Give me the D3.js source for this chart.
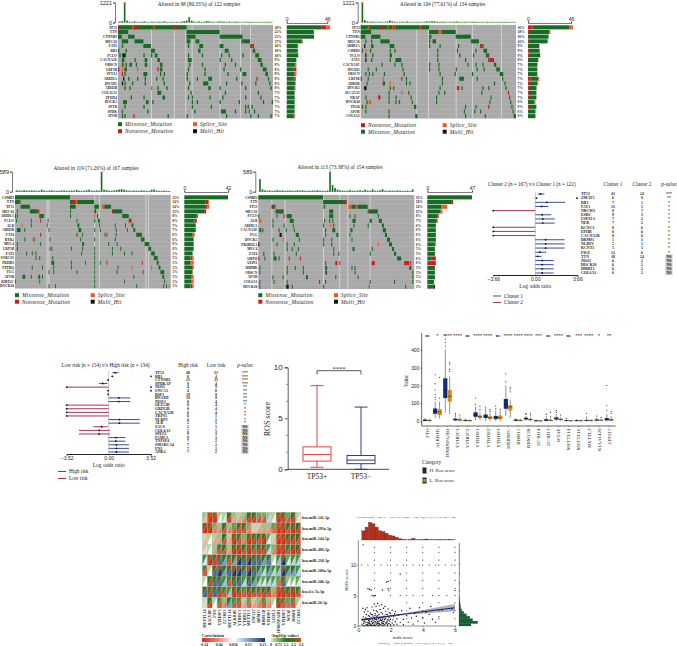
<!DOCTYPE html>
<html>
<head>
<meta charset="utf-8">
<script src="https://d3js.org/d3.v7.min.js"></script>
<style>
  body { margin:0; background:#fff; }
  svg { display:block; font-family:"Liberation Serif", serif; }
</style>
</head>
<body>
<script>
// ---- oncoplot data: each gene row is a list of [startSample, nSamples, type]
var genesA = ["TP53","TTN","CTNNB1","MUC16","FAT1","RB1","PCLO","CACNA1E","OBSCN","LRP1B","SPTA1","ARID1A","DNAH5","ADH1B","COL11A1","ZFHX4","DOCK5","SPTB","SPHK","APOB"];
var pctA = ["38%","25%","25%","17%","10%","10%","10%","9%","9%","9%","9%","9%","8%","8%","7%","7%","7%","7%","7%","7%"];
var barsA = [[39,6,4,0],[30,1,0,0],[31,0,0,0],[17,1,0,0],[12,1,0,0],[12,1,0,0],[12,0,0,1],[11,0,0,0],[10,0,1,0],[8,3,0,0],[9,1,1,0],[8,1,0,1],[10,0,0,0],[9,0,1,0],[9,0,0,0],[9,0,0,0],[9,0,0,0],[9,0,0,0],[9,0,0,0],[8,1,0,0]];
var cellsA = [
 [[0,54],[0,1,"N"],[7,1,"N"],[11,1,"S"],[13,2,"N"],[18,1,"N"],[28,1,"S"],[44,2,"N"],[48,1,"N"]],
 [[0,8],[54,26],[70,1,"N"]],
 [[0,3],[8,5],[54,7],[80,18]],
 [[3,5],[13,7],[54,3],[61,3],[97,1,"N"],[98,6]],
 [[3,1],[20,6],[55,1],[64,3],[80,3],[104,2,"N"],[106,1]],
 [[0,1],[6,1],[26,3],[63,2],[84,3],[106,2]],
 [[1,1],[3,1],[4,2,"H"],[20,1],[26,1],[29,2],[55,1],[66,1],[81,1],[87,1],[98,1],[108,3]],
 [[3,2],[13,1],[21,2],[31,2],[55,3],[80,1],[89,1],[110,3]],
 [[3,1],[4,1,"S"],[6,1],[9,2],[14,1],[21,2],[33,2],[56,1],[66,1],[84,1],[92,1],[112,2]],
 [[0,1,"N"],[3,1,"S"],[5,2],[15,1,"S"],[31,1,"N"],[33,2],[55,1],[68,1],[83,1],[96,1],[114,3]],
 [[3,1,"N"],[5,1],[20,3],[33,1],[36,1],[54,1],[68,1],[86,1],[98,3],[116,2]],
 [[4,1,"H"],[8,1],[15,1],[21,1],[30,1],[35,1],[54,1],[62,1],[71,3],[93,1],[109,1,"N"],[118,1]],
 [[3,1,"H"],[5,1],[11,1],[21,1],[36,1],[56,1],[67,4],[85,1],[97,1],[108,1],[119,1]],
 [[5,1],[9,1],[26,1,"S"],[31,1],[38,1],[55,1],[71,2],[80,1],[100,1],[120,1]],
 [[31,3],[57,1],[84,1],[110,1]],
 [[10,1],[20,1],[35,2],[55,1],[58,1],[72,1],[82,1],[100,1],[112,1]],
 [[4,3],[22,2],[27,1],[58,1],[62,1],[80,1],[95,1],[114,1],[121,1]],
 [[5,1],[20,1],[58,1],[73,1],[100,1],[102,1],[105,1]],
 [[3,1],[23,1],[60,1],[81,4],[92,1],[100,1],[103,1],[107,1]],
 [[3,1],[5,1],[12,1,"N"],[39,1],[54,1],[85,1],[104,1],[110,1],[120,1]]
];
var topA = [60,80,1221,120,40,30,70,30,25,40,60,30,20,45,35,25,50,30,70,30,25,30,20,35,25,60,90,120,330,110,50,35,60,30,45,90,70,40,30,25,70,60,45,30,50,25,35,55,30,25,20,45,35,25,30,20,25,30,20,40,30,25];
var gapsA = [26,44,53,58,80,96,104];

var genesB = ["TP53","TTN","CTNNB1","MUC16","ARID1A","CSMD3","PCLO","FAT1","CACNA1E","DNAH5","OBSCN","LRP1B","ADH1B","DOCK5","SLC25A5","NRAP","DOCK10","PIGR","APOB","COL6A1"];
var pctB = ["36%","18%","16%","16%","9%","9%","9%","8%","7%","7%","7%","7%","7%","7%","7%","7%","6%","6%","6%","6%"];
var barsB = [[39,5,4,0],[22,1,1,0],[22,0,0,0],[20,1,0,0],[11,0,0,1],[11,1,1,0],[11,1,0,1],[11,0,0,0],[10,0,0,0],[10,0,0,0],[10,0,0,0],[8,3,1,0],[9,1,1,0],[7,1,0,1],[8,1,0,0],[8,1,0,0],[7,0,1,0],[8,1,0,0],[8,0,0,0],[8,0,0,0]];
var cellsB = [
 [[0,59],[6,2,"S"],[7,1,"N"],[17,2,"N"],[23,1,"S"],[27,1,"S"],[29,1,"S"],[51,1,"S"]],
 [[0,9],[59,23],[67,3,"S"],[71,1,"N"]],
 [[0,4],[9,8],[59,2],[82,13]],
 [[4,1],[9,1],[17,8],[59,1],[62,3],[95,1,"N"],[96,6]],
 [[3,1,"H"],[9,2],[25,4],[59,1],[68,1],[84,1],[103,2,"N"],[105,1]],
 [[1,1],[4,1,"S"],[8,1],[25,1],[29,1],[66,1],[83,1],[99,1],[106,3]],
 [[4,1,"H"],[10,1],[25,2],[66,1],[85,1],[97,1],[108,1],[109,2,"N"]],
 [[4,1,"H"],[9,1],[25,1],[30,5],[66,1],[90,1],[110,1],[111,3,"N"],[114,1]],
 [[18,1],[29,1],[35,1],[59,1],[67,1],[92,1],[99,1],[105,1],[115,2]],
 [[6,1],[13,1],[36,1],[59,1],[67,1],[82,1],[100,1],[106,1],[117,3]],
 [[4,1],[7,1],[10,1],[20,1],[37,1],[68,1],[81,1],[96,1],[120,3]],
 [[0,1,"N"],[6,1],[19,1,"S"],[35,1,"N"],[39,1],[70,1],[85,4],[100,1],[122,1]],
 [[5,1],[19,2],[25,1,"S"],[39,1],[42,1],[70,1],[115,1],[124,1]],
 [[3,2,"H"],[25,1],[28,1],[68,1],[83,2,"N"],[87,1],[105,1],[110,1],[125,1]],
 [[24,1],[35,1,"S"],[41,1],[67,1],[72,1],[104,1],[127,1,"N"]],
 [[4,1],[15,2,"N"],[24,1],[30,1],[43,1],[65,1],[112,1],[128,1]],
 [[5,1],[7,2,"S"],[24,1],[30,1],[33,1],[44,1],[65,1],[111,1],[129,1]],
 [[1,1],[4,1],[46,2],[90,1],[99,1],[110,1,"N"],[130,1]],
 [[4,1],[24,1],[89,1],[98,1],[103,1],[131,1]],
 [[24,1],[47,2],[90,1],[107,1],[132,2]]
];
var topB = [1221,140,60,40,50,30,25,40,30,20,60,120,70,40,30,25,45,30,60,30,25,20,35,30,25,40,70,60,80,70,45,30,50,40,25,35,30,45,60,30,25,40,30,20,35,45,30,25,30,20,40,25,30,20,25,30,20,35,25,30,20,30];
var gapsB = [48,58,82,96,121];

var genesC = ["CSMD3","TTN","TP53","MUC16","ARID1A","PCLO","ALB","ADH1B","FAT4","RYR2","MUC4","LRP1B","FAT3","SORCS3","PKHD1","PTPRQ","FLG","APOB","KMT2C","DOCK10"];
var pctC = ["25%","14%","14%","13%","8%","8%","7%","7%","6%","6%","6%","6%","5%","5%","5%","5%","5%","5%","5%","5%"];
var barsC = [[42,0,0,0],[20,3,1,0],[20,2,2,0],[19,2,0,0],[12,1,0,0],[10,2,0,0],[11,0,0,0],[11,0,0,0],[8,1,1,0],[9,0,0,0],[9,0,0,0],[9,0,0,0],[8,0,0,0],[6,2,1,0],[6,1,2,0],[8,1,0,0],[8,0,0,0],[7,1,1,0],[7,1,1,0],[6,2,1,0]];
var cellsC = [
 [[0,59]],
 [[0,6],[0,1,"N"],[2,1,"N"],[5,1,"S"],[59,26],[61,3,"N"],[65,2,"S"]],
 [[6,10],[59,6],[85,5],[93,2,"S"],[95,1,"N"],[96,7]],
 [[2,1],[16,8],[24,2,"N"],[59,1],[85,2],[104,1,"N"],[105,10]],
 [[0,1],[2,1],[26,5],[59,1],[85,1,"S"],[88,1],[115,7]],
 [[1,1],[17,1],[27,1,"N"],[35,1],[66,1],[85,1],[89,2],[122,3,"N"]],
 [[7,1,"S"],[17,1],[34,1],[67,2],[90,1],[107,1],[118,1],[125,2]],
 [[2,4],[10,1],[36,1],[68,3],[85,1],[91,1],[108,1],[120,1],[127,2]],
 [[27,1,"N"],[66,1],[72,1],[96,1,"N"],[98,1],[108,1],[130,6]],
 [[10,1],[19,1,"S"],[20,1],[37,1],[70,1],[85,1],[107,1],[135,4]],
 [[2,1],[27,1],[72,2],[100,1],[109,1],[139,5]],
 [[2,1],[37,1],[39,1],[60,1],[72,1],[85,1],[104,1],[113,1],[143,3]],
 [[12,1],[18,1],[22,1],[71,1],[85,1],[104,1],[117,1],[125,1],[146,4]],
 [[22,1],[26,1],[40,1],[85,1],[149,4]],
 [[39,3],[60,1],[75,1],[85,1],[91,1],[98,1,"N"],[136,1,"N"],[152,2]],
 [[18,1],[29,1],[41,1],[60,1],[85,1],[110,1],[125,1,"S"],[146,1,"S"],[154,2]],
 [[36,1],[41,1],[66,1],[85,1],[109,1],[137,1,"N"],[156,4]],
 [[8,3],[17,1],[25,2],[29,1],[85,1],[127,1],[158,2]],
 [[0,1,"N"],[26,1],[85,1],[117,1],[160,1]],
 [[36,1],[43,1],[85,1],[130,1],[159,1,"N"],[162,1],[165,1,"S"]]
];
var topC = [40,35,30,45,35,30,40,35,25,30,60,35,25,30,45,30,25,30,40,35,30,25,35,30,50,30,25,30,45,60,30,25,40,30,589,60,45,30,25,35,50,65,80,60,40,30,25,35,30,25,40,30,25,20,60,65,30,25,20,30,25,20];
var gapsC = [34,36,85,90,140,143];

var genesD = ["CSMD3","TTN","TP53","MUC16","PCLO","ALB","ARID1A","CACNA1E","FLG","DOCK5","PKHD1L1","MUC4","FAT4","AMPH","AXIN1","HMMR","OBSCN","APOB","COL6A1","DOCK10"];
var pctD = ["31%","18%","14%","11%","8%","7%","6%","6%","6%","6%","6%","5%","5%","6%","6%","5%","5%","5%","5%","5%"];
var barsD = [[47,0,0,0],[25,2,0,0],[15,1,5,0],[14,1,1,0],[11,1,0,0],[10,0,1,0],[9,0,0,0],[9,0,0,0],[9,0,0,0],[9,0,0,0],[8,0,1,0],[8,0,0,0],[8,0,0,0],[4,5,0,0],[0,9,0,0],[8,0,0,0],[8,0,0,0],[8,0,0,0],[7,0,0,0],[7,0,0,1]];
var cellsD = [
 [[0,64]],
 [[64,23],[84,3,"N"]],
 [[13,3],[16,1,"N"],[64,1,"S"],[65,1],[89,3,"S"],[92,4],[96,1,"N"],[97,1,"S"],[98,10]],
 [[17,8],[22,1,"N"],[70,4],[108,1,"N"],[109,9]],
 [[0,1],[18,1],[25,1,"N"],[28,5],[70,4],[90,1],[95,1],[118,1]],
 [[1,2,"S"],[14,1],[31,4],[65,1],[70,1],[73,1],[93,3],[110,2],[119,3]],
 [[14,1],[25,1],[34,1],[64,1],[71,1,"S"],[74,1],[94,1],[108,1],[122,2]],
 [[1,2],[4,1],[20,1],[27,1],[35,1],[66,1],[73,3],[91,2],[123,3]],
 [[21,2,"H"],[37,3],[66,1],[77,2],[90,1],[125,2]],
 [[14,1],[24,1,"S"],[40,1],[64,1],[72,1],[92,1],[127,3]],
 [[0,1,"H"],[18,1],[28,1],[35,1],[64,1],[72,1],[118,1,"S"],[129,3]],
 [[28,1],[33,1],[39,1],[74,1],[93,2],[112,1],[132,2]],
 [[5,1],[15,1],[37,1],[74,1],[79,1],[110,1],[134,2]],
 [[0,1,"N"],[6,1],[15,3],[20,1],[30,1,"N"],[41,1,"N"],[137,4]],
 [[66,1,"N"],[76,2,"N"],[80,1,"N"],[112,3,"N"],[144,5,"N"],[150,1,"N"]],
 [[1,1],[28,1],[36,1],[44,1],[66,2],[92,1],[95,1],[149,2]],
 [[1,1],[28,1],[44,1],[66,2],[95,1],[152,1]],
 [[14,1],[24,1],[47,2],[76,1],[98,1],[152,1]],
 [[1,1],[15,1],[28,1],[60,1],[66,1],[110,1],[134,1],[152,1]],
 [[1,1],[27,1],[28,2,"H"],[33,1],[64,1],[109,1,"N"],[145,1]]
];
var topD = [370,70,40,30,35,25,30,45,30,40,25,30,35,30,25,45,30,40,25,30,25,35,30,45,30,25,20,35,589,200,110,60,40,30,25,30,45,30,25,35,40,30,60,35,25,70,30,25,40,75,30,25,35,30,25,40,30,20,25,30,20,70];
var gapsD = [13,26,64,80,88,110];

// ---- forest plots: [log odds, low, high]
var genesF1 = ["TP53","ZMAT5","RB1","FAT1","NBCW3","ESR1","USP31A","NEB","KCNC1","EPHB","CACNA1B","BRMS1","NLRP3","KCNT1","PIGI","TTN","NOS1","DOCK10","DMBT1","COL6A1"];
var forestF1 = [[.46,.2,.8],[.1,.05,.2],[1,0,2.6],[.55,0,1.15],[-3.66,-3.66,0],[.6,0,1.4],[.65,0,1.7],[.65,0,1.7],[-3.66,-3.66,0],[-3.66,-3.66,0],[-3.66,-3.66,0],[.9,0,2.55],[.9,0,2.55],[.9,0,2.55],[.4,0,.95],[.2,0,.55],[.6,0,1.6],[.6,0,1.6],[.6,0,1.6],[.6,0,1.6]];
var countF1a = [43,6,7,13,0,9,7,7,0,0,0,5,5,5,12,38,6,6,6,6];
var countF1b = [24,0,1,5,7,3,2,2,6,6,6,1,1,1,6,24,2,2,2,2];
var pvalF1 = ["***","**","*","*","*","*","*","*","*","*","*","*","*","*","*","NS","NS","NS","NS","NS"];
var flagF1 = [1];

var genesF2 = ["TP53","RB1","CTNNB1","SPHKAP","NOS1","UNC5A","RSF1","DNAH9","NOX3","OLIG3B","GRIN2B","CACNA1B","TRPS1","NLRP3","ALB","SACS","COL6A3","SPEF2","FAM5A","TNFSF4","SMARCA4","FN1","ANK2"];
var forestF2 = [[.55,.3,.85],[.3,.2,.4],[-.05,-.1,.02],[-.5,-.8,-.1],[-3.52,-3.52,0],[-.05,-.1,.02],[-.05,-.1,.02],[.85,0,1.8],[.85,0,1.8],[-3.52,-3.52,0],[-3.52,-3.52,0],[-3.52,-3.52,0],[-3.52,-3.52,0],[.9,0,2.6],[.9,0,2.6],[-.6,-1.3,-.1],[-.8,-2.5,.1],[-.8,-2.5,.1],[.6,0,1.4],[.6,0,1.4],[.65,0,1.7],[.65,0,1.7],[.65,0,1.7]];
var countF2a = [48,8,23,0,4,4,19,19,0,0,0,0,6,6,2,2,1,9,9,7,7,7,7];
var countF2b = [31,4,11,4,9,8,9,9,4,4,4,4,1,1,5,5,5,3,3,2,2,2,2];
var pvalF2 = ["***","***","***","***","**","**","**","**","**","*","*","*","*","*","*","NS","NS","NS","NS","NS","NS","NS","NS"];
var flagF2 = [1,4,5];

// ---- TP53 box plot: [low, q1, median, q3, high]
var tpNames = ["TP53+","TP53\u2212"];
var tpBoxes = [[.2,.8,1.45,2.2,8.2],[0,.55,.9,1.35,6.1]];
var tpColors = ["#e8424a","#2d3b8e"];
var tpMinor = [1.67,3.33,6.67,8.33];

// ---- m6A box plot
var m6aNames = ["FTO","ALKBH5","HNRNPA2B1","YTHDC1","YTHDC2","YTHDF1","YTHDF2","YTHDF3","HNRNPC","RBM15","RBM15B","ZC3H14","ZC3H13","WTAP","METTL14","METTL16","METTL3","KIAA1429","ZFP217"];
var m6aHigh = [[0,2,5,10,18],[20,42,55,72,110],[50,130,175,240,400],[0,5,10,15,30],[0,2,4,8,15],[5,25,35,50,80],[2,18,27,38,75],[0,12,20,30,60],[30,70,95,125,200],[0,3,6,10,18],[2,10,15,20,30],[0,1,3,5,10],[0,3,6,12,30],[2,10,15,22,40],[0,2,4,6,10],[0,2,4,6,12],[0,3,5,8,15],[0,4,7,10,20],[0,5,12,18,40]];
var m6aLow = [[0,1,4,8,15],[15,35,52,68,110],[40,110,140,175,250],[0,3,8,13,25],[0,1,3,6,12],[5,18,26,33,50],[2,12,20,28,50],[0,12,20,32,60],[20,60,80,90,120],[0,2,5,8,15],[0,5,10,13,25],[0,1,2,4,8],[0,2,5,8,15],[0,6,10,14,25],[0,1,3,5,9],[0,1,3,5,10],[0,2,4,7,12],[0,4,6,9,15],[0,3,8,13,30]];
var m6aHighOut = [[],[120,135,150,175,210,260],[420,440,460,480],[35,45],[],[95,130],[80],[70,85],[220,265],[],[40,45],[],[40],[50,60],[15],[],[22,45],[30],[60,90,200]];
var m6aLowOut = [[],[130,245],[280,290,320,330],[35],[],[65,85],[55,65],[68],[165,180,190],[],[35,45],[],[25,50],[35],[],[],[],[22],[45,55]];
var m6aSig = ["ns","*","****","****","ns","****","****","ns","****","****","****","***","ns","****","ns","***","****","*","**"];

// ---- miRNA heatmap
var mirRows = ["hsa-miR-141-5p","hsa-miR-193a-5p","hsa-miR-144-5p","hsa-miR-486-5p","hsa-miR-210-3p","hsa-miR-106a-5p","hsa-miR-20b-5p","hsa-let-7a-3p","hsa-miR-20-5p"];
var mirCols = ["METTL14","RALYBP","FTO","YTHDF3","ZC3H13","METTL16","ALKBH5","YTHDC1","YTHDC2","METTL3","ZNF217","RBM15","RBM15B","YTHDF1","LOXL1","HNRNPA2B1","YTHDF2","WTAP","RBMX","ZC3H14"];
var mirCorr = [
 [.0,-.14,-.14,.055,.03,-.12,-.02,-.02,-.05,-.12,-.12,-.1,-.1,.1,.04,-.14,-.12,-.1,-.12,.03],
 [-.14,-.14,-.05,-.04,-.1,-.05,-.1,-.1,-.1,-.05,.0,-.02,-.03,-.03,-.08,-.14,-.14,-.1,-.14,-.12],
 [0,.05,-.02,-.03,-.1,-.02,-.14,-.1,-.05,-.14,-.12,-.1,-.14,.08,.0,-.14,-.14,-.12,-.12,-.1],
 [.02,.055,-.03,-.1,-.1,-.03,-.14,-.14,-.1,-.14,-.1,-.12,-.12,.1,-.05,-.14,-.14,-.1,-.14,-.12],
 [.08,-.14,-.12,.2,.15,-.1,.15,.25,.2,.25,.2,.2,.15,.18,.055,.12,.25,.08,.1,.1],
 [-.1,.055,.2,.25,.15,.2,.25,.25,.18,.25,.2,.15,.1,.15,.1,.12,.25,.15,.15,.1],
 [.055,-.12,.2,.2,.12,-.1,.2,.2,.1,.2,.15,.1,.08,.1,.1,-.08,.2,.05,.05,.08],
 [.2,-.12,.2,-.12,-.1,.12,-.14,-.12,-.1,-.12,-.1,-.1,-.12,-.1,-.05,-.14,-.14,-.12,-.14,-.1],
 [.02,-.12,.055,-.1,-.05,.15,-.1,-.1,-.02,-.08,-.02,-.05,-.1,-.04,.055,-.14,-.1,-.08,-.1,.04]
];
var mirLogP = [
 [.5,3.1,2.8,.4,.3,2,.5,.3,.5,1.5,1.8,.9,.8,.5,.3,2.6,2,.9,1.5,.3],
 [2.5,2.6,.8,.5,1.5,.5,1,2,2,.8,.2,.2,.5,.5,1,3,2.6,1.8,2,1.5],
 [.2,.3,.3,.5,1.5,.3,2.4,1.4,.8,2.2,2,1.5,2,.9,.2,3,2.6,2,1.8,1.6],
 [.3,.2,.5,1.4,1.5,.5,2.2,2.4,1.5,2.4,1.4,1.6,1.7,1.2,.7,3,2.5,1.4,2.2,1.8],
 [1.2,2.8,1.8,2.2,1.6,1.3,1.8,2.5,2,2.6,2,2.2,1.6,1.8,.3,1.2,2.6,.9,1.2,1.1],
 [1.3,.3,2.2,2.6,1.8,2,2.6,2.6,1.8,2.8,2.2,1.6,1.2,1.6,1.2,1.2,2.6,1.6,1.6,1.2],
 [.2,1.6,2,2,1.2,1.3,2,2,1.2,2,1.6,1.2,.9,1.2,1.1,1,2.1,.6,.6,.9],
 [2,2.2,2,1.8,1.3,1.2,2.4,1.7,1.2,1.9,1.5,1.4,1.8,1.5,.6,3,2.4,1.7,2.4,1.4],
 [.2,1.5,.3,1.2,.6,1.6,1.2,1.2,.3,1,.3,.6,1.2,.5,.3,2.2,1.3,1,1.2,.4]
];
var corrStops = [-.14,-.04,.056,.15,.25];
var corrColors = ["#e3261c","#f08070","#ffffff","#7f9cc8","#14327e"];
var logpStops = [0,.75,1.5,2.2,3.3];
var logpColors = ["#d3ecbf","#6dbb5e","#1f7a25","#5d6a12","#dd4a10"];

// ---- ROS vs mda score scatter
var scatterPts = [[.3,.1],[.35,.4],[.4,.8],[.45,1.3],[.5,.2],[.5,1.9],[.55,.6],[.6,1.1],[.6,2.4],[.65,.1],[.65,.9],[.7,.4],[.7,1.6],[.75,2.1],[.8,.2],[.8,.7],[.8,1.3],[.85,3.1],[.9,.1],[.9,.5],[.9,1],[.9,1.8],[.95,2.6],[1,.3],[1,.8],[1,1.4],[1,3.6],[1.05,.1],[1.05,2],[1.1,.5],[1.1,1.1],[1.1,3.2],[1.15,.2],[1.15,1.6],[1.2,.7],[1.2,2.3],[1.2,3.7],[1.25,.1],[1.25,1.2],[1.3,.4],[1.3,1.9],[1.3,3.3],[1.35,.9],[1.35,2.7],[1.4,.2],[1.4,1.4],[1.45,.6],[1.45,3.5],[1.5,.1],[1.5,1],[1.5,2],[1.55,.4],[1.55,2.9],[1.6,.8],[1.6,1.6],[1.65,.2],[1.65,3.2],[1.7,1.2],[1.7,2.4],[1.75,.5],[1.8,.1],[1.8,1],[1.8,1.9],[1.85,2.8],[1.9,.4],[1.9,1.4],[1.95,.8],[2,.2],[2,1.1],[2,2.1],[2.05,1.7],[2.1,.5],[2.1,2.6],[2.15,1],[2.2,.2],[2.2,1.5],[2.25,2],[2.3,.7],[2.3,2.4],[2.4,.3],[2.4,1.2],[2.5,1.8],[2.6,.6],[2.7,2.5],[2.8,.2],[2.8,1.1],[3,1.7],[3.1,.6],[3.2,2.9],[3.3,1.3],[3.4,.3],[3.5,2.1],[3.6,1.6],[3.7,.8],[3.8,3],[4,1.4],[4.1,.5],[4.2,2.2],[4.4,1.9],[4.5,3.2],[4.6,1.1],[4.8,.6],[5,1.5],[5.2,2.6],[5.8,2.8],[.32,1.5],[.38,2.3],[.42,.05],[.48,.6],[.52,1.1],[.58,.3],[.62,1.7],[.68,.7],[.72,1.1],[.78,.1],[.82,1.9],[.88,.4],[.92,1.5],[.98,.1],[1.02,1.1],[1.08,.7],[1.12,2.5],[1.18,.4],[1.22,1.7],[1.28,.8],[1.32,.2],[1.38,1.1],[1.42,2.2],[1.48,.4],[1.52,1.3],[1.58,.15],[1.62,1.1],[1.68,.5],[1.72,1.9],[1.78,.7],[1.82,.3],[1.88,1],[1.92,2.2],[.22,.3],[.25,1.1],[.28,2.9],[.34,.7],[.44,2.7],[.54,3],[.56,.1],[.64,.5],[.74,.3],[.84,.8],[.94,.6],[1.04,1.7],[1.14,1],[1.24,.5],[1.34,1.4],[1.44,.9],[1.54,.7],[.6,6.1],[.7,6],[.8,5.9],[.85,5],[.95,4.9],[1.05,5],[1.5,5.9],[1.85,6.1],[1.9,5.8],[1.85,7.3],[1.75,7.2],[2.6,8.5],[.3,13.3],[6,5.8],[5.9,2.2]];
var scatterRows = [[12.9,[1,2,3,4,5,6]],[12.1,[1,2,3,4,5,6]],[10.8,[1,2,3,4,5,6]],[10,[.2,.6,1,1.4,1.8,2,2.4,2.8,3,3.4,3.8,4,4.4,4.8,5,5.4,5.8,6]],[8.7,[1,2,3,4,5,6]],[7.5,[1,2,3,4,5,6]],[6.2,[1,2,3,4,5,6]],[5,[1,2,2.6,3,3.4,4,4.6,5,5.5,6]],[3.8,[3,4,5,6]],[2.5,[3,4,5,6]],[1.2,[3,4,5,6]]];
var regX = [.2,3,6];
var regY = [1,2,3];
var regLo = [.8,1.85,2.4];
var regHi = [1.2,2.15,3.6];
var topHist = [27,38,52,48,38,27,25,20,14,12,8,4,2,1,2,5,1,1,2,3,1,1,1,2,1,1,2,1];
var sideHist = [35,55,40,32,22,14,8,5,4,3,2,2,1,1,2,1,1,2,1,1,1,2,1,1,1,2,1,1,1,1,2,1,1,1];

var typeColor = {M:"#176b24", N:"#cf1b1b", S:"#f2561d", H:"#111111"};
var stackKeys = {A:["M","N","S","H"], B:["N","M","S","H"]};

var svg = d3.select("body").append("svg").attr("width",677).attr("height",646);
svg.append("rect").attr("width",677).attr("height",646).attr("fill","#fff");

function label(g, x, y, txt, size, anchor, opts) {
  var t = g.append("text").attr("x",x).attr("y",y).text(txt)
    .attr("font-size",size).attr("text-anchor",anchor||"start").attr("fill","#222");
  if (opts) for (var k in opts) t.attr(k, opts[k]);
  return t;
}
function tidyAxis(g, size) {
  g.selectAll("text").attr("font-size",size).attr("fill","#222");
  g.selectAll("line,path").attr("stroke","#222").attr("stroke-width",.6);
}

function oncoplot(cfg) {
  var g = svg.append("g");
  var x = d3.scaleLinear().domain([0,cfg.n]).range([cfg.x0,cfg.x1]);
  var y = d3.scaleBand().domain(cfg.genes).range([cfg.y0,cfg.y1]);
  g.append("rect").attr("x",cfg.x0).attr("y",cfg.y0).attr("width",cfg.x1-cfg.x0).attr("height",cfg.y1-cfg.y0).attr("fill","#a9a9a9");
  // pale columns and row separators
  g.selectAll(".gap").data(cfg.gaps).enter().append("rect").attr("x",d=>x(d)).attr("y",cfg.y0)
    .attr("width",.8).attr("height",cfg.y1-cfg.y0).attr("fill","#dcdcdc");
  g.selectAll(".sep").data(cfg.genes).enter().append("line")
    .attr("x1",cfg.x0).attr("x2",cfg.x1).attr("y1",d=>y(d)).attr("y2",d=>y(d))
    .attr("stroke","#c4c4c4").attr("stroke-width",.35);
  cfg.cells.forEach(function(row,i){
    g.selectAll(".c"+i).data(row).enter().append("rect")
      .attr("x",d=>x(d[0])).attr("y",y(cfg.genes[i])+.3)
      .attr("width",d=>x(d[0]+d[1])-x(d[0])).attr("height",y.bandwidth()-.6)
      .attr("fill",d=>typeColor[d[2]||"M"]);
  });
  // gene names and percentages
  g.selectAll(".gn").data(cfg.genes).enter().append("text").attr("x",cfg.x0-1).attr("y",d=>y(d)+y.bandwidth()/2+1.2)
    .attr("text-anchor","end").attr("font-size",3.5).attr("font-weight","bold").attr("fill","#222").text(d=>d);
  g.selectAll(".pc").data(cfg.pct).enter().append("text").attr("x",cfg.x1+1.5).attr("y",(d,i)=>y(cfg.genes[i])+y.bandwidth()/2+1.2)
    .attr("font-size",3.5).attr("font-weight","bold").attr("fill","#222").text(d=>d);
  // top sample bars
  var tx = d3.scaleBand().domain(d3.range(cfg.top.length)).range([cfg.x0,cfg.x1]).padding(.35);
  var ty = d3.scaleLinear().domain([0,cfg.topMax]).range([cfg.topY1,cfg.topY0]);
  g.append("rect").attr("x",cfg.x0).attr("y",cfg.topY1-.8).attr("width",cfg.x1-cfg.x0).attr("height",1).attr("fill","#a8cfa0");
  g.selectAll(".tb").data(cfg.top).enter().append("rect").attr("x",(d,i)=>tx(i)).attr("y",d=>ty(d))
    .attr("width",tx.bandwidth()).attr("height",d=>ty(0)-ty(d)).attr("fill",typeColor.M);
  g.selectAll(".tc").data(cfg.top.filter(d=>d>cfg.topMax*.25)).enter().append("rect")
    .attr("x",d=>tx(cfg.top.indexOf(d))).attr("y",d=>ty(d)).attr("width",tx.bandwidth()).attr("height",1.2).attr("fill",typeColor.S);
  var ya = g.append("g").attr("transform","translate("+(cfg.x0-3)+",0)")
    .call(d3.axisLeft(ty).tickValues([0,cfg.topMax]).tickFormat(d3.format("d")).tickSize(2).tickPadding(1));
  tidyAxis(ya,5.5);
  // gene mutation count bars
  var rx = d3.scaleLinear().domain([0,cfg.barMax]).range([cfg.barX0,cfg.barX1]);
  var keys = stackKeys[cfg.order];
  cfg.bars.forEach(function(v,i){
    var c = 0;
    keys.forEach(function(k){
      var val = v[["M","N","S","H"].indexOf(k)];
      if (!val) return;
      g.append("rect").attr("x",rx(c)).attr("y",y(cfg.genes[i])+.3).attr("width",rx(c+val)-rx(c))
        .attr("height",y.bandwidth()-.6).attr("fill",typeColor[k]);
      c += val;
    });
  });
  var ra = g.append("g").attr("transform","translate(0,"+cfg.barAxisY+")")
    .call(d3.axisTop(rx).tickValues([0,cfg.barMax]).tickSize(1.5).tickPadding(1));
  tidyAxis(ra,5);
  // title
  label(g,cfg.titleX,cfg.titleY,cfg.title,5.3,"middle");
  // legend
  cfg.legend.forEach(function(l){
    g.append("rect").attr("x",l[0]).attr("y",l[1]-3.8).attr("width",4).attr("height",4).attr("fill",typeColor[l[2]]);
    label(g,l[0]+7,l[1],l[3],5.5,"start",{"font-style":"italic","letter-spacing":".25"});
  });
}

oncoplot({genes:genesA,pct:pctA,bars:barsA,cells:cellsA,top:topA,gaps:gapsA,n:122,x0:118,x1:273,y0:25,y1:118.5,topY0:2.5,topY1:22.5,topMax:1221,
  barX0:286.7,barX1:327.3,barMax:46,barAxisY:23,order:"A",title:"Altered in 98 (80.33%) of 122 samples",titleX:199,titleY:6,
  legend:[[118,126,"M","Missense_Mutation"],[118,133,"N","Nonsense_Mutation"],[193,126,"S","Splice_Site"],[193,133,"H","Multi_Hit"]]});
oncoplot({genes:genesB,pct:pctB,bars:barsB,cells:cellsB,top:topB,gaps:gapsB,n:134,x0:360.7,x1:516,y0:25,y1:118.5,topY0:2.5,topY1:22.5,topMax:1221,
  barX0:528,barX1:571,barMax:46,barAxisY:23,order:"B",title:"Altered in 104 (77.61%) of 134 samples",titleX:442.7,titleY:6,
  legend:[[361,127,"N","Nonsense_Mutation"],[361,133.5,"M","Missense_Mutation"],[442.7,127,"S","Splice_Site"],[442.7,133.5,"H","Multi_Hit"]]});
oncoplot({genes:genesC,pct:pctC,bars:barsC,cells:cellsC,top:topC,gaps:gapsC,n:167,x0:15,x1:170.7,y0:195,y1:288.5,topY0:171.7,topY1:191.7,topMax:589,
  barX0:184.3,barX1:228,barMax:42,barAxisY:192,order:"A",title:"Altered in 119 (71.26%) of 167 samples",titleX:96,titleY:170,
  legend:[[15,297,"M","Missense_Mutation"],[15,303.5,"N","Nonsense_Mutation"],[90.7,297,"S","Splice_Site"],[90.7,303.5,"H","Multi_Hit"]]});
oncoplot({genes:genesD,pct:pctD,bars:barsD,cells:cellsD,top:topD,gaps:gapsD,n:154,x0:258.3,x1:414.3,y0:195,y1:289,topY0:171.7,topY1:191.7,topMax:589,
  barX0:427.3,barX1:472,barMax:47,barAxisY:192,order:"A",title:"Altered in 113 (73.38%) of 154 samples",titleX:340,titleY:168.5,
  legend:[[258.3,297,"M","Missense_Mutation"],[258.3,303.5,"N","Nonsense_Mutation"],[334,297,"S","Splice_Site"],[334,303.5,"H","Multi_Hit"]]});

function forest(cfg) {
  var g = svg.append("g");
  var x = d3.scaleLinear().domain([-cfg.lim,cfg.lim]).range([cfg.x0,cfg.x1]);
  var y = d3.scalePoint().domain(cfg.genes).range([cfg.y0,cfg.y1]);
  g.append("line").attr("x1",x(0)).attr("x2",x(0)).attr("y1",cfg.y0-2).attr("y2",cfg.axisY).attr("stroke","#777").attr("stroke-width",.4);
  g.selectAll(".fl").data(cfg.data).enter().append("line")
    .attr("x1",d=>x(d[1])).attr("x2",d=>x(d[2]))
    .attr("y1",(d,i)=>y(cfg.genes[i])).attr("y2",(d,i)=>y(cfg.genes[i]))
    .attr("stroke",d=>d[0]<0?cfg.red:cfg.blue).attr("stroke-width",d=>(d[2]-d[1])<.3?.5:1);
  g.selectAll(".fp").data(cfg.data).enter().append("circle").attr("cx",d=>x(d[0])).attr("cy",(d,i)=>y(cfg.genes[i]))
    .attr("r",.9).attr("fill","#111");
  var ax = g.append("g").attr("transform","translate(0,"+cfg.axisY+")")
    .call(d3.axisBottom(x).tickValues([-cfg.lim,0,cfg.lim]).tickFormat(d3.format(".2f")).tickSize(1.5).tickPadding(1));
  tidyAxis(ax,5);
  ax.selectAll("path").attr("stroke-width",1);
  label(g,x(0),cfg.axisY+12.5,"Log odds ratio",5.5,"middle");
  label(g,cfg.headX,cfg.headY,cfg.head,5.2);
  label(g,cfg.colA,cfg.headY,cfg.nameA,5.2,"middle");
  label(g,cfg.colB,cfg.headY,cfg.nameB,5.2,"middle");
  label(g,cfg.colP,cfg.headY,"p-value",5.2,"middle",{"font-style":"italic"});
  var rows = [[cfg.genes,cfg.geneX,"start"],[cfg.a,cfg.colA,"middle"],[cfg.b,cfg.colB,"middle"]];
  rows.forEach(function(r){
    g.selectAll(".r").data(r[0]).enter().append("text").attr("x",r[1]).attr("y",(d,i)=>y(cfg.genes[i])+1.3)
      .attr("text-anchor",r[2]).attr("font-size",3.9).attr("font-weight","bold").attr("fill","#222").text(d=>d);
  });
  cfg.p.forEach(function(d,i){
    var yy = y(cfg.genes[i]);
    if (d=="NS") g.append("rect").attr("x",cfg.colP-3.5).attr("y",yy-cfg.step/2).attr("width",7).attr("height",cfg.step).attr("fill","#c9c9c9");
    label(g,cfg.colP,yy+1.3,d,3.9,"middle",{"font-weight":"bold"});
  });
  cfg.flag.forEach(function(i){
    g.append("circle").attr("cx",cfg.geneX-4).attr("cy",y(cfg.genes[i])).attr("r",.9).attr("fill","#111");
  });
  cfg.leg.forEach(function(l){
    g.append("line").attr("x1",l[0]).attr("x2",l[0]+8).attr("y1",l[1]-1.5).attr("y2",l[1]-1.5).attr("stroke",l[2]).attr("stroke-width",1);
    label(g,l[0]+11,l[1],l[3],5.2);
  });
}

forest({genes:genesF1,data:forestF1,a:countF1a,b:countF1b,p:pvalF1,flag:flagF1,lim:3.66,x0:493.3,x1:577.3,y0:194,y1:273,axisY:275,step:4.15,
  red:"#a83253",blue:"#3a4c9f",geneX:581,colA:613,colB:642,colP:669,headX:488,headY:186,head:"Cluster 2 (n = 167) v/s Cluster 1 (n = 122)",nameA:"Cluster 1",nameB:"Cluster 2",
  leg:[[493,297.5,"#3a4c9f","Cluster 1"],[493,304,"#a83253","Cluster 2"]]});
forest({genes:genesF2,data:forestF2,a:countF2a,b:countF2b,p:pvalF2,flag:flagF2,lim:3.52,x0:66.7,x1:150.7,y0:372.7,y1:452,axisY:454,step:3.6,
  red:"#a83253",blue:"#3a4c9f",geneX:155,colA:188,colB:216,colP:245,headX:61.5,headY:366.5,head:"Low risk (n = 154) v/s High risk (n = 134)",nameA:"High risk",nameB:"Low risk",
  leg:[[58,473,"#3a4c9f","High risk"],[58,480,"#a83253","Low risk"]]});

// TP53 box plot
(function(){
  var g = svg.append("g");
  var y = d3.scaleLinear().domain([0,10]).range([469.3,367.3]);
  var x = d3.scalePoint().domain(tpNames).range([317,361]);
  var w = 14;
  var ya = g.append("g").attr("transform","translate(287.7,0)").call(d3.axisLeft(y).tickValues([0,5,10]).tickSize(3).tickPadding(2));
  ya.selectAll("text").attr("font-size",8).attr("fill","#222");
  ya.selectAll("line,path").attr("stroke","#333").attr("stroke-width",.8);
  g.selectAll(".mt").data(tpMinor).enter().append("line").attr("x1",286).attr("x2",287.7).attr("y1",d=>y(d)).attr("y2",d=>y(d)).attr("stroke","#333").attr("stroke-width",.6);
  g.append("line").attr("x1",287.7).attr("x2",389).attr("y1",y(0)).attr("y2",y(0)).attr("stroke","#333").attr("stroke-width",.9);
  tpBoxes.forEach(function(b,i){
    var cx = x(tpNames[i]), col = tpColors[i];
    var box = g.append("g").attr("stroke",col).attr("stroke-width",1).attr("fill","none");
    box.append("line").attr("x1",cx).attr("x2",cx).attr("y1",y(b[0])).attr("y2",y(b[1]));
    box.append("line").attr("x1",cx).attr("x2",cx).attr("y1",y(b[3])).attr("y2",y(b[4]));
    box.append("line").attr("x1",cx-6.5).attr("x2",cx+6.5).attr("y1",y(b[0])).attr("y2",y(b[0]));
    box.append("line").attr("x1",cx-6.5).attr("x2",cx+6.5).attr("y1",y(b[4])).attr("y2",y(b[4]));
    box.append("rect").attr("x",cx-w).attr("width",2*w).attr("y",y(b[3])).attr("height",y(b[1])-y(b[3]));
    box.append("line").attr("x1",cx-w).attr("x2",cx+w).attr("y1",y(b[2])).attr("y2",y(b[2]));
    label(g,cx,478.5,tpNames[i],7.5,"middle");
  });
  g.append("path").attr("d","M"+x(tpNames[0])+",374.5V370.7H"+x(tpNames[1])+"V374.5").attr("fill","none").attr("stroke","#333").attr("stroke-width",.8);
  label(g,339,371,"****",6.5,"middle");
  label(g,0,0,"ROS score",8,"middle",{transform:"translate(270,419) rotate(-90)"});
})();

// m6A grouped boxes
(function(){
  var g = svg.append("g");
  var x = d3.scalePoint().domain(m6aNames).range([427.3,609]);
  var y = d3.scaleLinear().domain([0,400]).range([421.3,349.7]);
  g.append("line").attr("x1",421.7).attr("x2",421.7).attr("y1",333).attr("y2",426).attr("stroke","#222").attr("stroke-width",.7);
  g.append("line").attr("x1",421.7).attr("x2",615.7).attr("y1",426).attr("y2",426).attr("stroke","#222").attr("stroke-width",.7);
  var ya = g.append("g").attr("transform","translate(421.7,0)").call(d3.axisLeft(y).tickValues([0,100,200,300,400]).tickSize(1.5).tickPadding(1));
  tidyAxis(ya,4.8);
  ya.select("path").remove();
  var series = [[m6aHigh,m6aHighOut,"#0f2d78",-2.2],[m6aLow,m6aLowOut,"#d98a14",2.2]];
  series.forEach(function(s){
    m6aNames.forEach(function(n,i){
      var b = s[0][i], cx = x(n)+s[3], w = 2.1;
      g.append("line").attr("x1",cx).attr("x2",cx).attr("y1",y(b[0])).attr("y2",y(b[4])).attr("stroke","#222").attr("stroke-width",.5);
      g.append("rect").attr("x",cx-w).attr("width",2*w).attr("y",y(b[3])).attr("height",Math.max(y(b[1])-y(b[3]),.8)).attr("fill",s[2]);
      g.append("line").attr("x1",cx-w).attr("x2",cx+w).attr("y1",y(b[2])).attr("y2",y(b[2])).attr("stroke","#111").attr("stroke-width",.5);
      g.selectAll(".o").data(s[1][i]).enter().append("circle").attr("cx",cx).attr("cy",d=>y(d)).attr("r",.55).attr("fill","#111");
    });
  });
  m6aNames.forEach(function(n,i){
    label(g,x(n),336.5,m6aSig[i],4.5,"middle",{"font-weight":"bold"});
    label(g,0,0,n,5,"end",{transform:"translate("+(x(n)+1.7)+",428.5) rotate(-90)"});
    g.append("line").attr("x1",x(n)).attr("x2",x(n)).attr("y1",426).attr("y2",427.2).attr("stroke","#222").attr("stroke-width",.4);
  });
  label(g,0,0,"Value",5.2,"middle",{transform:"translate(408,381) rotate(-90)"});
  label(g,422,464,"Category",5.2);
  [[470.5,"#0f2d78","H. Ros score"],[480.5,"#d98a14","L. Ros score"]].forEach(function(l){
    g.append("rect").attr("x",422.5).attr("y",l[0]-3).attr("width",4).attr("height",6).attr("fill","#222");
    g.append("rect").attr("x",423.2).attr("y",l[0]-1.6).attr("width",2.6).attr("height",3.2).attr("fill",l[1]);
    label(g,429.5,l[0]+1.6,l[2],5);
  });
})();

// miRNA heatmap
(function(){
  var g = svg.append("g");
  var x = d3.scaleBand().domain(mirCols).range([202.3,300.7]);
  var y = d3.scaleBand().domain(mirRows).range([512.3,608]);
  var corrCol = d3.scaleLinear().domain(corrStops).range(corrColors).clamp(true);
  var logCol = d3.scaleLinear().domain(logpStops).range(logpColors).clamp(true);
  var w = x.bandwidth(), h = y.bandwidth();
  mirRows.forEach(function(r,i){
    mirCols.forEach(function(c,j){
      var x0 = x(c), y0 = y(r);
      g.append("path").attr("d","M"+x0+","+(y0+h)+"L"+x0+","+y0+"L"+(x0+w)+","+y0+"Z").attr("fill",logCol(mirLogP[i][j]));
      g.append("path").attr("d","M"+x0+","+(y0+h)+"L"+(x0+w)+","+y0+"L"+(x0+w)+","+(y0+h)+"Z").attr("fill",corrCol(mirCorr[i][j]));
      g.append("rect").attr("x",x0).attr("y",y0).attr("width",w).attr("height",h).attr("fill","none").attr("stroke","#bbb").attr("stroke-width",.3);
    });
    label(g,302,y(r)+h/2+1.4,r,4,"start",{"font-weight":"bold"});
  });
  mirCols.forEach(function(c){
    label(g,0,0,c,4,"end",{"font-weight":"bold",transform:"translate("+(x(c)+w/2+1.4)+",609.5) rotate(-90)"});
  });
  // legends
  var defs = svg.append("defs");
  function gradient(id,colors){
    var lg = defs.append("linearGradient").attr("id",id);
    colors.forEach(function(col,i){ lg.append("stop").attr("offset",i/(colors.length-1)).attr("stop-color",col); });
  }
  gradient("gCorr",corrColors); gradient("gLog",logpColors);
  label(g,202,636.5,"Correlation",4.4,"start",{"font-weight":"bold"});
  label(g,271,636.5,"-log10(p value)",4.4,"start",{"font-weight":"bold"});
  g.append("rect").attr("x",202).attr("y",638).attr("width",63).attr("height",4).attr("fill","url(#gCorr)");
  g.append("rect").attr("x",271).attr("y",638).attr("width",30).attr("height",4).attr("fill","url(#gLog)");
  var cl = d3.scalePoint().domain(corrStops).range([204,263]);
  var ll = d3.scalePoint().domain(logpStops).range([271,301]);
  corrStops.forEach(function(d){ label(g,cl(d),646,d,3.8,"middle",{"font-weight":"bold"}); });
  logpStops.forEach(function(d){ label(g,ll(d),646,d,3.8,"middle",{"font-weight":"bold"}); });
})();

// scatter with marginals
(function(){
  var g = svg.append("g");
  var x = d3.scaleLinear().domain([0,6]).range([358.3,455]);
  var y = d3.scaleLinear().domain([0,10]).range([626,565]);
  g.append("line").attr("x1",358.3).attr("x2",358.3).attr("y1",540).attr("y2",626).attr("stroke","#222").attr("stroke-width",.5);
  g.append("line").attr("x1",358.3).attr("x2",456).attr("y1",626).attr("y2",626).attr("stroke","#222").attr("stroke-width",.5);
  var band = d3.area().x((d,i)=>x(regX[i])).y0((d,i)=>y(regLo[i])).y1((d,i)=>y(regHi[i]));
  g.append("path").attr("d",band(regX)).attr("fill","#b3b3b3");
  var line = d3.line().x((d,i)=>x(regX[i])).y((d,i)=>y(regY[i]));
  scatterRows.forEach(function(r){
    g.selectAll(".gr").data(r[1]).enter().append("circle").attr("cx",d=>x(d)).attr("cy",y(r[0])).attr("r",.55).attr("fill","#111");
  });
  g.selectAll(".pt").data(scatterPts).enter().append("circle").attr("cx",d=>x(d[0])).attr("cy",d=>y(d[1])).attr("r",.7).attr("fill","#111");
  g.append("path").attr("d",line(regX)).attr("fill","none").attr("stroke","#14287e").attr("stroke-width",1.1);
  var xa = g.append("g").attr("transform","translate(0,626)").call(d3.axisBottom(x).tickValues([0,2,4,6]).tickFormat(d3.format("d")).tickSize(1).tickPadding(1));
  tidyAxis(xa,5); xa.select("path").remove();
  var ya = g.append("g").attr("transform","translate(358.3,0)").call(d3.axisLeft(y).tickValues([0,5,10]).tickFormat(d3.format("d")).tickSize(1).tickPadding(1));
  tidyAxis(ya,5); ya.select("path").remove();
  label(g,403,638.5,"mda score",5,"middle");
  label(g,0,0,"ROS score",5,"middle",{transform:"translate(348,580) rotate(-90)"});
  // top histogram
  var hx = d3.scaleBand().domain(d3.range(topHist.length)).range([361.7,455]);
  var hy = d3.scaleLinear().domain([0,53]).range([540,522]);
  g.selectAll(".th").data(topHist).enter().append("rect").attr("x",(d,i)=>hx(i)).attr("y",d=>hy(d))
    .attr("width",hx.bandwidth()).attr("height",d=>540-hy(d)).attr("fill","#b5301a").attr("stroke","#5a1a0c").attr("stroke-width",.25);
  // side histogram
  var sy = d3.scaleBand().domain(d3.range(sideHist.length)).range([626,543]);
  var sx = d3.scaleLinear().domain([0,55]).range([459,477.7]);
  g.selectAll(".sh").data(sideHist).enter().append("rect").attr("x",459).attr("y",(d,i)=>sy(i)).attr("height",sy.bandwidth())
    .attr("width",d=>sx(d)-459).attr("fill","#14602e").attr("stroke","#0c3a1c").attr("stroke-width",.2);
  label(g,356,518,"t_Student (282) = 4.86, p = 1.98e-6, \u011D_Hedges = 0.28, CI\u2089\u2085 [0.16, 0.39], n_pairs = 289",2.9);
  label(g,378,644,"log\u2091(BF\u2080\u2081) = \u22124.80, \u03C1\u0302_median = 0.25, CI\u2089\u2085 [0.14, 0.35], r\u2082 = 1.41",2.9);
})();
</script>
</body>
</html>
